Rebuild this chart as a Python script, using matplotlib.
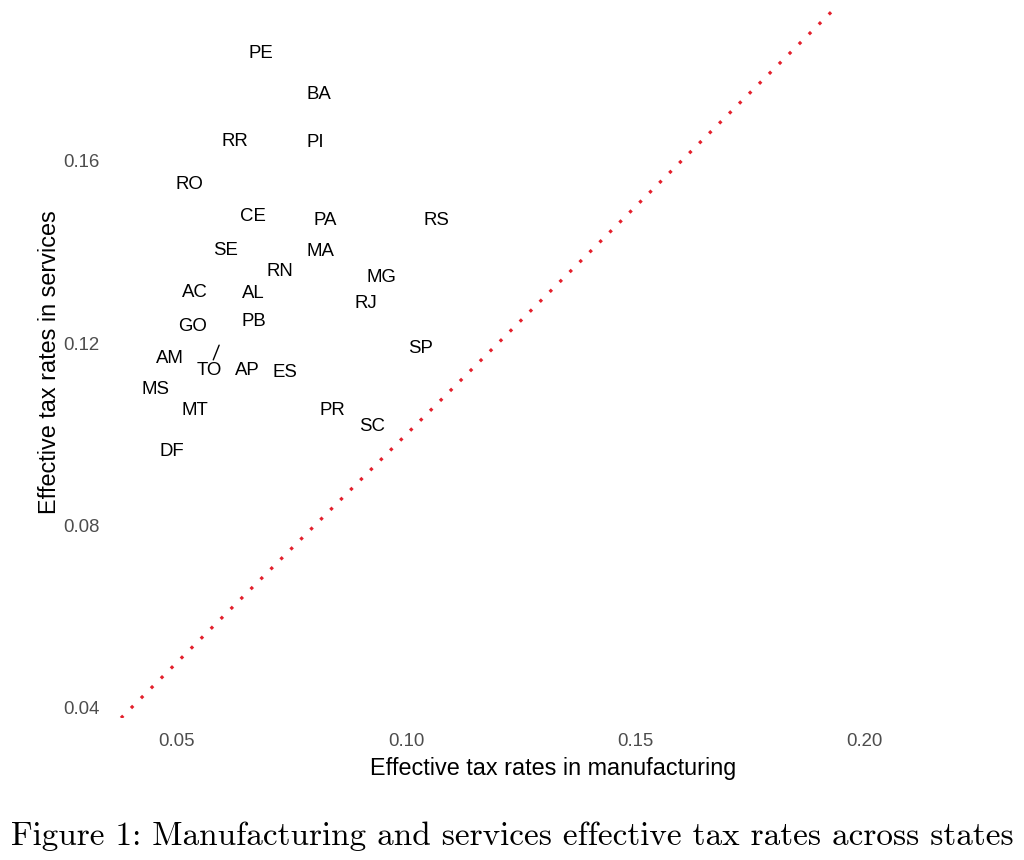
import matplotlib
matplotlib.use("Agg")
import matplotlib.pyplot as plt
import numpy as np

# State labels and effective tax rates (manufacturing, services)
STATES = ['PE', 'BA', 'RR', 'PI', 'RO', 'CE', 'PA', 'RS', 'SE', 'MA',
          'RN', 'MG', 'AC', 'AL', 'RJ', 'GO', 'PB', 'AM', 'TO', 'SP',
          'AP', 'ES', 'MS', 'MT', 'PR', 'SC', 'DF']
MANUF = [0.0683, 0.0810, 0.0626, 0.0801, 0.0528, 0.0666, 0.0823, 0.1065, 0.0605, 0.0812,
         0.0725, 0.0947, 0.0539, 0.0666, 0.0912, 0.0535, 0.0668, 0.0485, 0.0592, 0.1032,
         0.0653, 0.0736, 0.0454, 0.0539, 0.0838, 0.0925, 0.0489]
SERV = [0.1841, 0.1751, 0.1648, 0.1644, 0.1552, 0.1482, 0.1473, 0.1473, 0.1409, 0.1405,
        0.1363, 0.1348, 0.1315, 0.1313, 0.1291, 0.1242, 0.1253, 0.1172, 0.1196, 0.1194,
        0.1144, 0.1141, 0.1104, 0.1056, 0.1056, 0.1021, 0.0966]

X_TICKS = [0.05, 0.10, 0.15, 0.20]
Y_TICKS = [0.04, 0.08, 0.12, 0.16]

# labels pushed away from their point (ggrepel style), offset in points
REPELLED = {'TO': (-7.2, -16.6)}

FONT = ['Liberation Sans', 'DejaVu Sans']

fig = plt.figure(figsize=(10.24, 8.6), dpi=100)
ax = fig.add_axes([0.1025, 0.1651, 0.875, 0.8279])

xlim = (0.0343, 0.2297)
ylim = (0.0378, 0.1940)

# 45 degree line
ax.axline((0.1, 0.1), slope=1, color='#E3202C', lw=2.3,
          ls=(0, (1, 3.4)), zorder=1)

for name, x, y in zip(STATES, MANUF, SERV):
    if name in REPELLED:
        ax.annotate(name, xy=(x, y), xytext=REPELLED[name], textcoords='offset points',
                    ha='center', va='center_baseline', fontsize=13.4, family=FONT,
                    arrowprops=dict(arrowstyle='-', color='black', lw=1.0,
                                    patchA=None, shrinkA=8, shrinkB=0))
    else:
        ax.text(x, y, name, ha='center', va='center_baseline', fontsize=13.4, family=FONT)

ax.set_xlim(xlim)
ax.set_ylim(ylim)
ax.set_xticks(X_TICKS)
ax.set_yticks(Y_TICKS)
ax.set_xticklabels([f'{v:.2f}' for v in X_TICKS])
ax.set_yticklabels([f'{v:.2f}' for v in Y_TICKS])
for s in ax.spines.values():
    s.set_visible(False)
ax.tick_params(length=0, labelsize=13.4, colors='#4D4D4D', pad=4)
for lab in ax.get_xticklabels() + ax.get_yticklabels():
    lab.set_family(FONT)
ax.tick_params(axis='x', pad=11)

ax.set_xlabel('Effective tax rates in manufacturing', fontsize=16.8, family=FONT, labelpad=5)
ax.set_ylabel('Effective tax rates in services', fontsize=16.8, family=FONT, labelpad=1.5)

fig.text(0.5, 1 - 836 / 860, 'Figure 1: Manufacturing and services effective tax rates across states',
         ha='center', va='center', fontsize=23.9, family=['cmr10', 'DejaVu Serif'], color='black')

fig.savefig('out.png', dpi=100)
